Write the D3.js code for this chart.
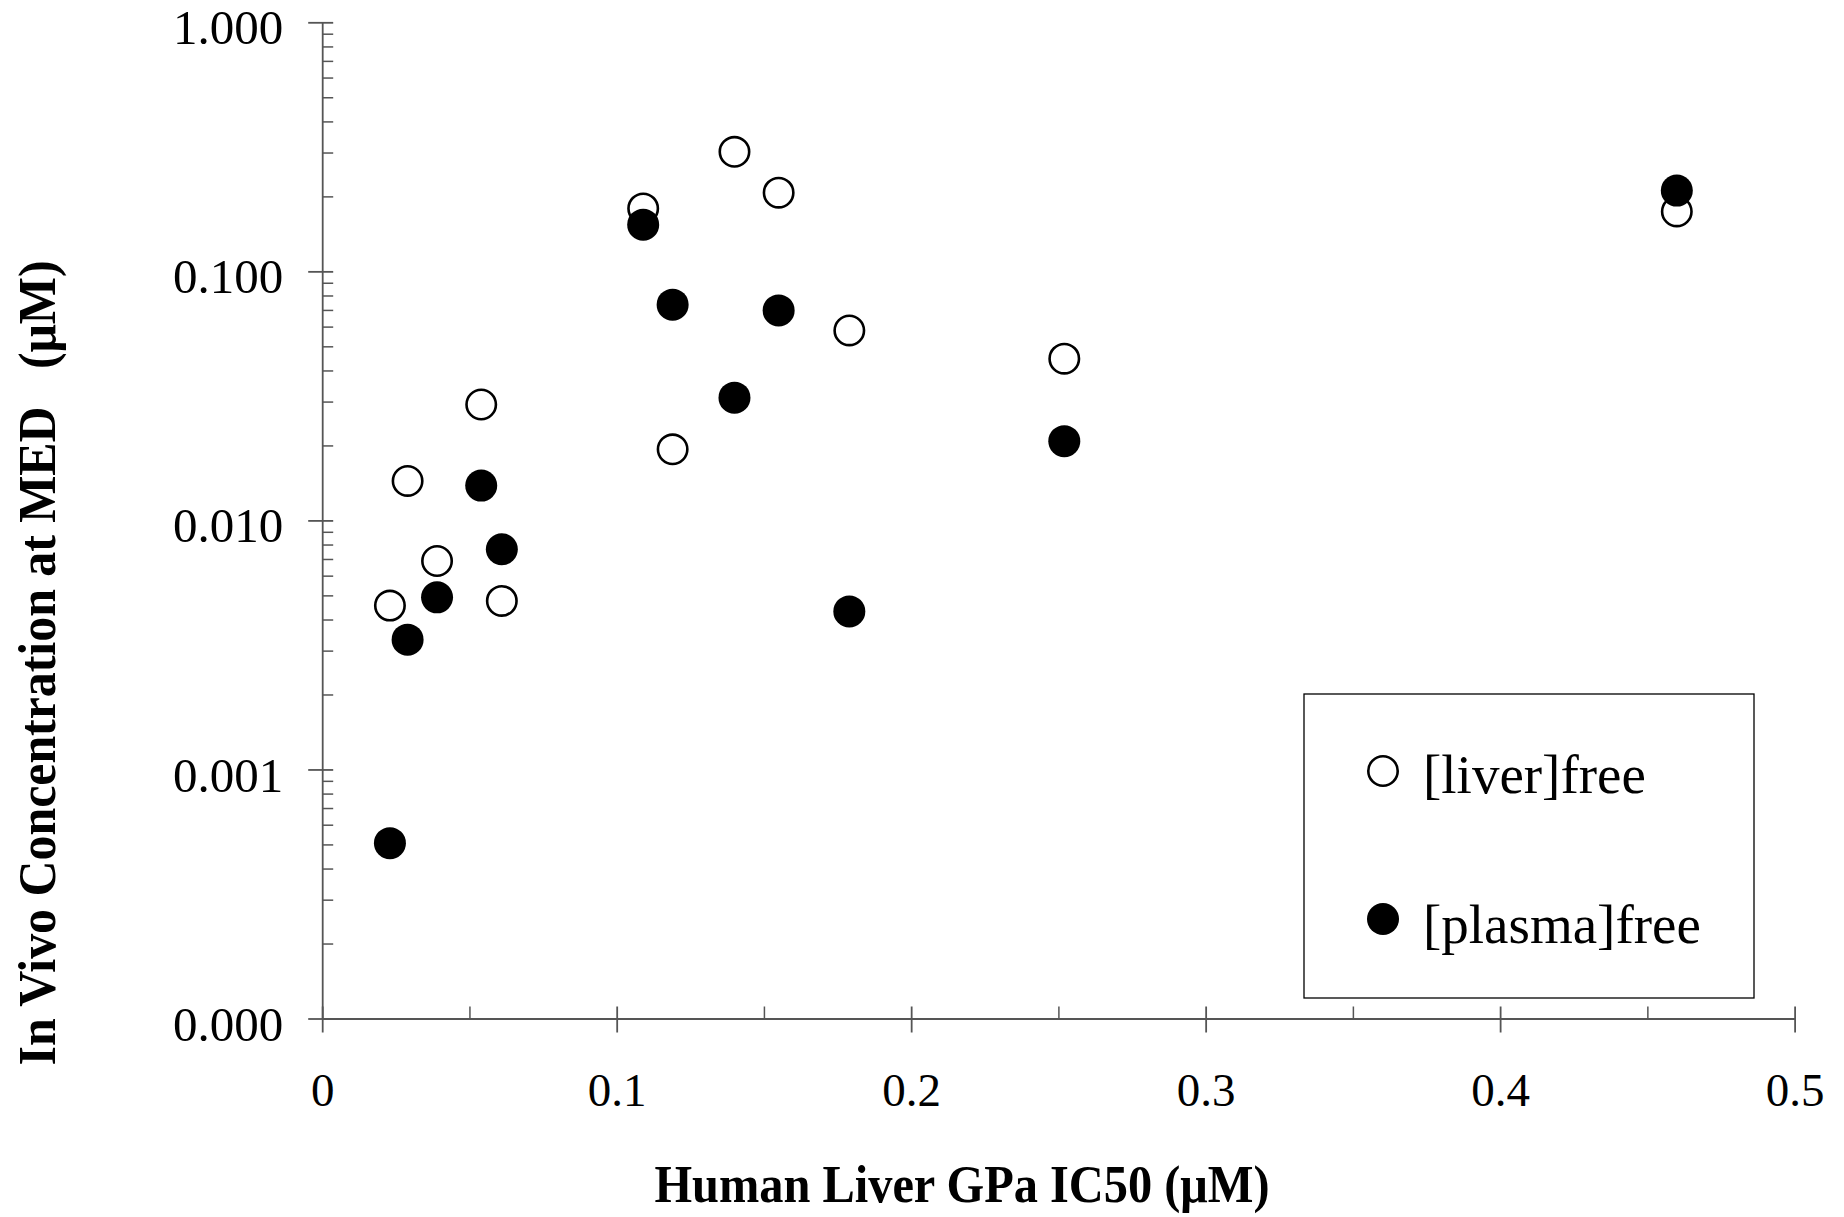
<!DOCTYPE html>
<html>
<head>
<meta charset="utf-8">
<script src="https://cdn.jsdelivr.net/npm/d3@7"></script>
<style>
  html, body { margin: 0; padding: 0; background: #fff; }
  svg { display: block; }
  text { font-family: "Liberation Serif", "Times New Roman", serif; fill: #000; }
</style>
</head>
<body>
<svg id="chart" width="1844" height="1217"></svg>
<script>
// ---- data ----
const ic50 = [0.023, 0.029, 0.039, 0.054, 0.061, 0.109, 0.119, 0.140, 0.155, 0.179, 0.252, 0.460];
const liverFree = [0.00455, 0.0144, 0.00687, 0.0292, 0.00475, 0.179, 0.0193, 0.302, 0.207, 0.0579, 0.0446, 0.174];
const plasmaFree = [0.000506, 0.00332, 0.00491, 0.0138, 0.00766, 0.154, 0.0735, 0.0311, 0.0697, 0.00431, 0.0208, 0.211];
const xTickValues = [0, 0.1, 0.2, 0.3, 0.4, 0.5];
const xMinorValues = [0.05, 0.15, 0.25, 0.35, 0.45];
const yTickValues = [0.0001, 0.001, 0.01, 0.1, 1];
const seriesNames = ["[liver]free", "[plasma]free"];
const xTitle = "Human Liver GPa IC50 (\u03bcM)";
const yTitle = "In Vivo Concentration at MED   (\u03bcM)";

// ---- layout ----
const svg = d3.select("#chart");
const x = d3.scaleLinear().domain([0, 0.5]).range([322.2, 1794.6]);
const y = d3.scaleLog().domain([0.0001, 1]).range([1018.5, 22.3]);
const axisColor = "#555";

// y minor ticks (2..9 per decade)
const yMinor = [];
for (let e = -4; e < 0; e++) for (let m = 2; m <= 9; m++) yMinor.push(m * Math.pow(10, e));

const gyMinor = svg.append("g").attr("transform", `translate(${x(0)},0)`)
  .call(d3.axisRight(y).tickValues(yMinor).tickFormat("").tickSize(11).tickSizeOuter(0));
gyMinor.select(".domain").remove();
gyMinor.selectAll("line").attr("stroke", axisColor).attr("stroke-width", 1.5);

const gy = svg.append("g").attr("transform", `translate(${x(0)},0)`)
  .call(d3.axisLeft(y).tickValues(yTickValues).tickFormat(d3.format(".3f")).tickSize(14).tickSizeOuter(0).tickPadding(25));
gy.select(".domain").attr("stroke", axisColor).attr("stroke-width", 1.8);
gy.selectAll(".tick line").attr("stroke", axisColor).attr("stroke-width", 1.8).attr("x2", -14).attr("x1", 11);
gy.selectAll(".tick text").attr("font-size", 49).attr("font-family", "Liberation Serif").attr("fill", "#000").attr("dy", "0.44em");

const gxMinor = svg.append("g").attr("transform", `translate(0,${y(0.0001)})`)
  .call(d3.axisTop(x).tickValues(xMinorValues).tickFormat("").tickSize(12).tickSizeOuter(0));
gxMinor.select(".domain").remove();
gxMinor.selectAll("line").attr("stroke", axisColor).attr("stroke-width", 1.5);

const gx = svg.append("g").attr("transform", `translate(0,${y(0.0001)})`)
  .call(d3.axisBottom(x).tickValues(xTickValues).tickFormat(d => d === 0 ? "0" : d3.format(".1f")(d)).tickSize(14).tickSizeOuter(0).tickPadding(40));
gx.select(".domain").attr("stroke", axisColor).attr("stroke-width", 1.8);
gx.selectAll(".tick line").attr("stroke", axisColor).attr("stroke-width", 1.8).attr("y1", -12).attr("y2", 14);
gx.selectAll(".tick text").attr("font-size", 47).attr("font-family", "Liberation Serif").attr("fill", "#000");

// ---- axis titles ----
svg.append("text")
  .attr("x", 962).attr("y", 1202)
  .attr("text-anchor", "middle")
  .attr("font-size", 52).attr("font-weight", "bold")
  .attr("textLength", 615).attr("lengthAdjust", "spacingAndGlyphs")
  .text(xTitle);

svg.append("text")
  .attr("transform", "translate(55,663) rotate(-90)")
  .attr("text-anchor", "middle")
  .attr("font-size", 52).attr("font-weight", "bold")
  .attr("xml:space", "preserve").style("white-space", "pre")
  .attr("textLength", 805).attr("lengthAdjust", "spacingAndGlyphs")
  .text(yTitle);

// ---- points ----
const r = 16;
const liverPts = ic50.map((v, i) => ({ x: v, y: liverFree[i] }));
const plasmaPts = ic50.map((v, i) => ({ x: v, y: plasmaFree[i] }));

svg.append("g").selectAll("circle").data(liverPts).join("circle")
  .attr("cx", d => x(d.x)).attr("cy", d => y(d.y)).attr("r", r - 1.3)
  .attr("fill", "#fff").attr("stroke", "#000").attr("stroke-width", 2.6);

svg.append("g").selectAll("circle").data(plasmaPts).join("circle")
  .attr("cx", d => x(d.x)).attr("cy", d => y(d.y)).attr("r", r)
  .attr("fill", "#000");

// ---- legend ----
const lg = svg.append("g");
lg.append("rect").attr("x", 1304).attr("y", 694).attr("width", 450).attr("height", 304)
  .attr("fill", "#fff").attr("stroke", "#000").attr("stroke-width", 1.3);
const legendRows = [
  { name: seriesNames[0], cy: 771, base: 793, open: true },
  { name: seriesNames[1], cy: 919, base: 943, open: false }
];
legendRows.forEach(row => {
  if (row.open) {
    lg.append("circle").attr("cx", 1383).attr("cy", row.cy).attr("r", r - 1.3)
      .attr("fill", "#fff").attr("stroke", "#000").attr("stroke-width", 2.6);
  } else {
    lg.append("circle").attr("cx", 1383).attr("cy", row.cy).attr("r", r).attr("fill", "#000");
  }
  lg.append("text").attr("x", 1423).attr("y", row.base).attr("font-size", 55).text(row.name);
});
</script>
</body>
</html>
